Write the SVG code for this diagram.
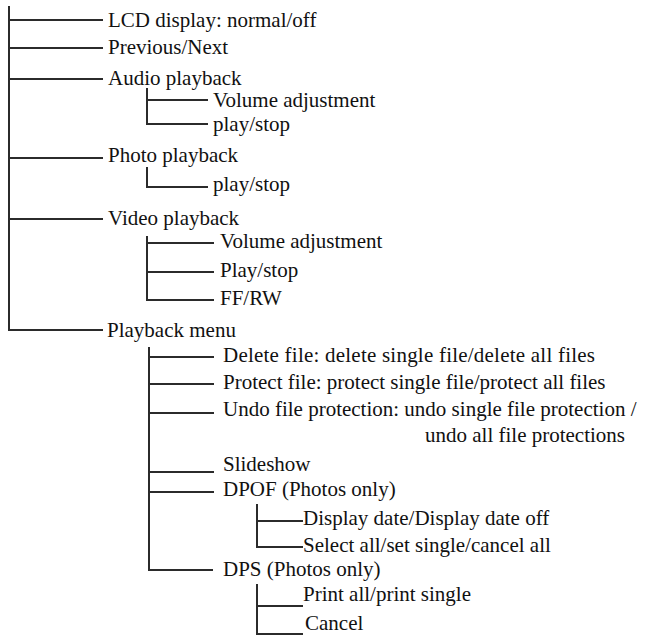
<svg xmlns="http://www.w3.org/2000/svg" width="647" height="637" viewBox="0 0 647 637">
<style>
.t{font-family:"Liberation Serif","Times New Roman",serif;font-size:21px;fill:#111}
.c{stroke:#2b2b2b;stroke-width:2;fill:none;stroke-linecap:square}
</style>
<rect width="647" height="637" fill="#fff"/>
<g id="connectors" class="c">
<path d="M9 7V330H102M9 20H102M9 48H102M9 79H102M9 158H102M9 219H102"/>
<path d="M147 89V124H207M147 100H207"/>
<path d="M147 168V187H207"/>
<path d="M147 237V300H213M147 243H213M147 272H213"/>
<path d="M149 348V570H212M149 357H213M149 384H213M149 413H213M149 472H213M149 492H213"/>
<path d="M257 505V547H302M257 521H302"/>
<path d="M257 585V634H302M257 606H302"/>
</g>
<g id="n-lcd"><text class="t" x="108" y="27">LCD display: normal/off</text></g>
<g id="n-prev"><text class="t" x="108" y="54">Previous/Next</text></g>
<g id="n-audio"><text class="t" x="108" y="85">Audio playback</text></g>
<g id="n-audio-vol"><text class="t" x="213" y="107">Volume adjustment</text></g>
<g id="n-audio-play"><text class="t" x="213" y="131">play/stop</text></g>
<g id="n-photo"><text class="t" x="108" y="162">Photo playback</text></g>
<g id="n-photo-play"><text class="t" x="213" y="191">play/stop</text></g>
<g id="n-video"><text class="t" x="108" y="225">Video playback</text></g>
<g id="n-video-vol"><text class="t" x="220" y="248">Volume adjustment</text></g>
<g id="n-video-play"><text class="t" x="220" y="277">Play/stop</text></g>
<g id="n-video-ff"><text class="t" x="220" y="305">FF/RW</text></g>
<g id="n-menu"><text class="t" x="107" y="337">Playback menu</text></g>
<g id="n-delete"><text class="t" x="223" y="362" textLength="372" lengthAdjust="spacing">Delete file: delete single file/delete all files</text></g>
<g id="n-protect"><text class="t" x="223" y="389">Protect file: protect single file/protect all files</text></g>
<g id="n-undo"><text class="t" x="223" y="416">Undo file protection: undo single file protection /</text><text class="t" x="425" y="442">undo all file protections</text></g>
<g id="n-slide"><text class="t" x="223" y="471">Slideshow</text></g>
<g id="n-dpof"><text class="t" x="223" y="496">DPOF (Photos only)</text></g>
<g id="n-dpof-date"><text class="t" x="303" y="525">Display date/Display date off</text></g>
<g id="n-dpof-sel"><text class="t" x="303" y="552">Select all/set single/cancel all</text></g>
<g id="n-dps"><text class="t" x="223" y="576">DPS (Photos only)</text></g>
<g id="n-dps-print"><text class="t" x="303" y="601">Print all/print single</text></g>
<g id="n-dps-cancel"><text class="t" x="305" y="630">Cancel</text></g>
</svg>
